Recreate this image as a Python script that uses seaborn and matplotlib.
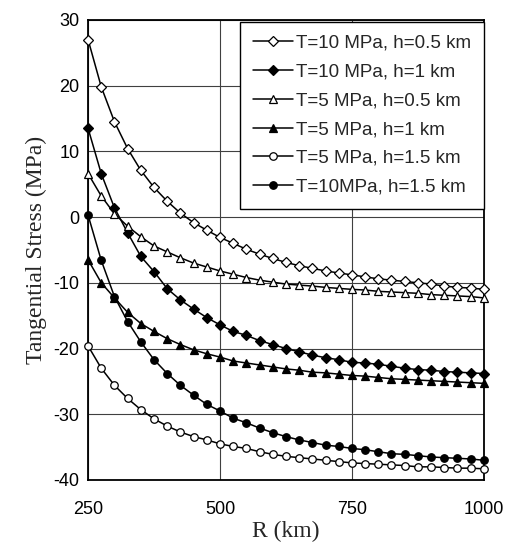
import numpy as np
import pandas as pd
import matplotlib
matplotlib.use("Agg")
import matplotlib.pyplot as plt
import seaborn as sns

# radius (km), one point every 25 km
R_KM = list(range(250, 1001, 25))

# tangential stress (MPa)
T10_H05 = [27.0, 19.8, 14.5, 10.4, 7.1, 4.5, 2.4, 0.6, -0.85, -2.0, -3.1,
           -4.0, -4.9, -5.65, -6.3, -6.9, -7.4, -7.8, -8.2, -8.5, -8.8,
           -9.1, -9.4, -9.6, -9.8, -10.0, -10.2, -10.5, -10.7, -10.8, -11.0]
T10_H1 = [13.5, 6.6, 1.4, -2.4, -6.0, -8.3, -10.9, -12.6, -14.0, -15.3, -16.4,
          -17.4, -18.0, -18.8, -19.4, -20.0, -20.5, -21.0, -21.4, -21.7, -22.1,
          -22.2, -22.4, -22.7, -23.0, -23.2, -23.3, -23.5, -23.6, -23.7, -23.8]
T5_H05 = [6.6, 3.2, 0.5, -1.4, -3.0, -4.4, -5.3, -6.2, -7.0, -7.6, -8.2,
          -8.7, -9.2, -9.6, -9.9, -10.2, -10.35, -10.5, -10.7, -10.85, -11.0,
          -11.1, -11.3, -11.4, -11.5, -11.6, -11.8, -11.9, -12.0, -12.1, -12.3]
T5_H1 = [-6.5, -10.0, -12.3, -14.5, -16.2, -17.4, -18.5, -19.4, -20.2, -20.8, -21.3,
         -21.9, -22.2, -22.5, -22.8, -23.1, -23.3, -23.6, -23.7, -23.9, -24.1,
         -24.2, -24.4, -24.6, -24.7, -24.8, -24.9, -25.0, -25.1, -25.2, -25.3]
T5_H15 = [-19.6, -23.0, -25.6, -27.6, -29.3, -30.7, -31.8, -32.7, -33.4, -33.9, -34.5,
          -34.9, -35.2, -35.7, -36.1, -36.4, -36.6, -36.8, -37.0, -37.2, -37.4,
          -37.5, -37.6, -37.7, -37.8, -38.0, -38.0, -38.1, -38.2, -38.2, -38.3]
T10_H15 = [0.3, -6.6, -12.1, -15.9, -19.0, -21.7, -23.8, -25.6, -27.1, -28.5, -29.5,
           -30.6, -31.3, -32.1, -32.8, -33.4, -33.9, -34.3, -34.7, -34.9, -35.2,
           -35.4, -35.7, -36.0, -36.1, -36.3, -36.5, -36.6, -36.7, -36.8, -37.0]

LABELS = ["T=10 MPa, h=0.5 km", "T=10 MPa, h=1 km", "T=5 MPa, h=0.5 km",
          "T=5 MPa, h=1 km", "T=5 MPa, h=1.5 km", "T=10MPa, h=1.5 km"]
VALUES = [T10_H05, T10_H1, T5_H05, T5_H1, T5_H15, T10_H15]

# marker, face colour, marker size
STYLES = [("D", "white", 4.8), ("D", "black", 4.8), ("^", "white", 6.2),
          ("^", "black", 6.2), ("o", "white", 5.4), ("o", "black", 5.4)]

df = pd.concat([pd.DataFrame({"R": R_KM, "stress": v, "series": lab})
                for lab, v in zip(LABELS, VALUES)], ignore_index=True)

sns.set_style("white")
plt.rcParams['font.family'] = ['Liberation Sans', 'DejaVu Sans']
plt.rcParams['axes.unicode_minus'] = False

fig = plt.figure(figsize=(5.12, 5.42), dpi=100)
ax = fig.add_axes([0.172, 0.1144, 0.773, 0.849])

for lab, (mk, fc, ms) in zip(LABELS, STYLES):
    sns.lineplot(data=df[df["series"] == lab], x="R", y="stress", ax=ax,
                 color="black", linewidth=1.1, marker=mk, markersize=ms,
                 markerfacecolor=fc, markeredgecolor="black",
                 markeredgewidth=0.9, label=lab, legend=False,
                 clip_on=False, zorder=3)

ax.set_xlim(250, 1000)
ax.set_ylim(-40, 30)
ax.set_xticks([250, 500, 750, 1000])
ax.set_yticks(np.arange(-40, 31, 10))
ax.grid(True, color="0.25", linewidth=0.8)
for sp in ax.spines.values():
    sp.set_color("black")
    sp.set_linewidth(1.3)

ax.tick_params(axis="both", direction="out", length=4, width=1.0,
               colors="black", labelsize=13)
ax.tick_params(axis="x", pad=11)
ax.tick_params(axis="y", pad=2)

serif = ["Liberation Serif", "DejaVu Serif"]
ax.set_xlabel("R (km)", family=serif, fontsize=17, labelpad=2)
ax.set_ylabel("Tangential Stress (MPa)", family=serif, fontsize=17, labelpad=5)

leg = ax.legend(loc="upper right", bbox_to_anchor=(1.0, 0.996), fontsize=13.5,
                frameon=True, fancybox=False, edgecolor="black", framealpha=1,
                handlelength=2.1, handletextpad=0.15, labelspacing=0.62,
                borderpad=0.7, borderaxespad=0.0, numpoints=1)
leg.get_frame().set_linewidth(1.0)

fig.savefig("out.png", dpi=100, facecolor="white")
